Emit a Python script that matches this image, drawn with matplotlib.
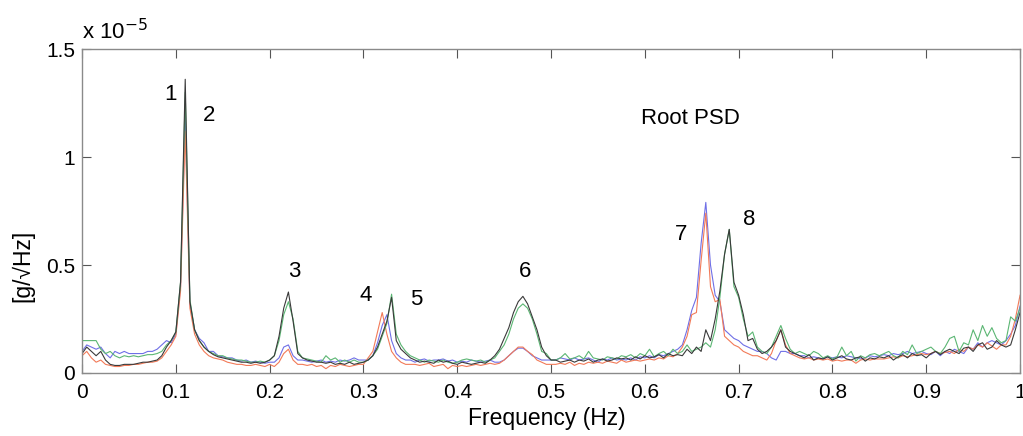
import numpy as np
import matplotlib
matplotlib.use("Agg")
import matplotlib.pyplot as plt

plt.rcParams["font.family"] = ["Liberation Sans", "DejaVu Sans"]

# frequency grid (Hz), 0.005 Hz spacing
freq = np.round(np.arange(201) * 0.005, 4)

# root PSD values in units of 1e-5 g/sqrt(Hz)
psd_black = (
    [0.09, 0.12, 0.10, 0.08, 0.10, 0.06, 0.04, 0.035, 0.035, 0.04,
     0.04, 0.04, 0.045, 0.05, 0.05, 0.055, 0.06, 0.08, 0.12, 0.15]          # 0 - 0.095
    + [0.19, 0.42, 1.36, 0.33, 0.20, 0.15, 0.12, 0.10, 0.085, 0.075, 0.07]  # 0.1 - 0.15
    + [0.065, 0.06, 0.055, 0.05, 0.05, 0.045, 0.05, 0.045, 0.05, 0.06]
    + [0.08, 0.17, 0.30, 0.375, 0.24, 0.09]                                # peak 3
    + [0.07, 0.06, 0.055, 0.05, 0.05, 0.045, 0.05, 0.04, 0.045, 0.04,
       0.05, 0.04, 0.045, 0.05]
    + [0.06, 0.08, 0.12, 0.18, 0.24, 0.35, 0.15, 0.11, 0.09, 0.07]          # peak 4/5
    + [0.06, 0.05, 0.055, 0.05, 0.045, 0.06, 0.05, 0.055, 0.045, 0.04,
       0.05, 0.045, 0.04, 0.045, 0.05, 0.045, 0.06]
    + [0.08, 0.11, 0.16, 0.21, 0.28, 0.33, 0.355, 0.32, 0.26, 0.20,
       0.12, 0.08, 0.06]                                                    # peak 6
    + [0.06, 0.05, 0.055, 0.06, 0.05, 0.06, 0.055, 0.065, 0.05, 0.06,
       0.065, 0.055, 0.06, 0.07, 0.065, 0.07, 0.06, 0.075, 0.065, 0.08,
       0.07, 0.075, 0.085, 0.07, 0.09, 0.08, 0.085]
    + [0.08, 0.11, 0.09, 0.12, 0.10, 0.20, 0.15, 0.25, 0.38, 0.55,
       0.665, 0.42, 0.36, 0.27, 0.15, 0.16, 0.11]                           # peak 7/8
    + [0.09, 0.10, 0.12, 0.15, 0.20, 0.12, 0.10, 0.09]
    + [0.08, 0.07, 0.085, 0.06, 0.07, 0.065, 0.075, 0.06, 0.07, 0.08,
       0.065, 0.06, 0.07, 0.075, 0.055, 0.07, 0.065, 0.075]
    + [0.07, 0.08, 0.06, 0.075, 0.085, 0.07, 0.09, 0.08, 0.085, 0.07,
       0.09, 0.10, 0.085, 0.10, 0.11, 0.10, 0.09, 0.115, 0.12, 0.10,
       0.13, 0.14, 0.11, 0.12, 0.15, 0.13, 0.12]
    + [0.13, 0.20, 0.28]
)

psd_green = (
    [0.15, 0.15, 0.15, 0.15, 0.11, 0.09, 0.10, 0.08, 0.07, 0.08,
     0.075, 0.08, 0.075, 0.08, 0.085, 0.085, 0.09, 0.10, 0.13, 0.15]
    + [0.19, 0.42, 1.30, 0.34, 0.20, 0.15, 0.12, 0.10, 0.09, 0.08, 0.08]
    + [0.07, 0.065, 0.06, 0.06, 0.055, 0.05, 0.05, 0.055, 0.05, 0.06]
    + [0.08, 0.15, 0.27, 0.33, 0.25, 0.10]
    + [0.07, 0.065, 0.06, 0.055, 0.05, 0.08, 0.06, 0.07, 0.05, 0.06,
       0.05, 0.06, 0.05, 0.05]
    + [0.06, 0.08, 0.11, 0.17, 0.23, 0.365, 0.18, 0.13, 0.10, 0.08]
    + [0.07, 0.06, 0.05, 0.06, 0.055, 0.05, 0.06, 0.05, 0.045, 0.05,
       0.06, 0.065, 0.06, 0.055, 0.06, 0.05, 0.06]
    + [0.07, 0.10, 0.13, 0.18, 0.25, 0.30, 0.32, 0.30, 0.25, 0.18,
       0.10, 0.09, 0.06]
    + [0.06, 0.07, 0.09, 0.065, 0.07, 0.08, 0.065, 0.10, 0.07, 0.065,
       0.06, 0.075, 0.07, 0.065, 0.08, 0.075, 0.085, 0.07, 0.09, 0.08,
       0.11, 0.075, 0.09, 0.10, 0.08, 0.11, 0.09]
    + [0.10, 0.13, 0.10, 0.11, 0.12, 0.14, 0.12, 0.20, 0.35, 0.55,
       0.665, 0.40, 0.35, 0.25, 0.17, 0.19, 0.12]
    + [0.10, 0.09, 0.12, 0.17, 0.22, 0.16, 0.11, 0.09]
    + [0.10, 0.09, 0.08, 0.10, 0.09, 0.07, 0.08, 0.065, 0.075, 0.12,
       0.08, 0.10, 0.055, 0.08, 0.07, 0.085, 0.09, 0.08]
    + [0.09, 0.10, 0.08, 0.07, 0.10, 0.085, 0.13, 0.09, 0.10, 0.11,
       0.12, 0.10, 0.09, 0.12, 0.16, 0.17, 0.10, 0.14, 0.13, 0.20,
       0.15, 0.22, 0.17, 0.21, 0.16, 0.14, 0.15]
    + [0.26, 0.24, 0.30]
)

psd_blue = (
    [0.10, 0.13, 0.12, 0.11, 0.12, 0.09, 0.07, 0.10, 0.09, 0.10,
     0.09, 0.09, 0.09, 0.09, 0.10, 0.10, 0.11, 0.13, 0.15, 0.14]
    + [0.18, 0.40, 1.20, 0.32, 0.20, 0.16, 0.14, 0.10, 0.10, 0.08, 0.075]
    + [0.07, 0.07, 0.06, 0.055, 0.06, 0.05, 0.055, 0.05, 0.045, 0.05]
    + [0.05, 0.07, 0.12, 0.13, 0.08, 0.06]
    + [0.06, 0.055, 0.05, 0.055, 0.06, 0.05, 0.055, 0.05, 0.06, 0.055,
       0.06, 0.07, 0.06, 0.06]
    + [0.06, 0.08, 0.14, 0.22, 0.27, 0.15, 0.09, 0.07, 0.06, 0.06]
    + [0.05, 0.06, 0.065, 0.055, 0.06, 0.06, 0.065, 0.055, 0.06, 0.05,
       0.055, 0.05, 0.06, 0.055, 0.05, 0.055, 0.06]
    + [0.05, 0.05, 0.06, 0.08, 0.10, 0.115, 0.115, 0.10, 0.08, 0.07,
       0.06, 0.06, 0.06]
    + [0.06, 0.07, 0.065, 0.06, 0.07, 0.06, 0.065, 0.07, 0.06, 0.05,
       0.065, 0.06, 0.07, 0.06, 0.065, 0.06, 0.07, 0.06, 0.075, 0.07,
       0.08, 0.07, 0.085, 0.08, 0.09, 0.10, 0.11]
    + [0.13, 0.20, 0.29, 0.35, 0.60, 0.79, 0.50, 0.36, 0.33, 0.20,
       0.18, 0.16, 0.15, 0.13, 0.12, 0.11, 0.10]
    + [0.10, 0.09, 0.07, 0.06, 0.10, 0.10, 0.09, 0.09]
    + [0.08, 0.08, 0.07, 0.075, 0.07, 0.065, 0.075, 0.07, 0.075, 0.07,
       0.08, 0.075, 0.07, 0.065, 0.07, 0.08, 0.075, 0.08]
    + [0.085, 0.08, 0.09, 0.085, 0.09, 0.10, 0.09, 0.095, 0.10, 0.09,
       0.085, 0.10, 0.08, 0.10, 0.09, 0.11, 0.10, 0.09, 0.12, 0.11,
       0.14, 0.12, 0.14, 0.15, 0.14, 0.13, 0.15]
    + [0.18, 0.22, 0.31]
)

psd_red = (
    [0.08, 0.10, 0.07, 0.05, 0.06, 0.04, 0.035, 0.03, 0.03, 0.035,
     0.035, 0.04, 0.04, 0.045, 0.05, 0.05, 0.055, 0.07, 0.10, 0.13]
    + [0.17, 0.38, 1.12, 0.30, 0.18, 0.13, 0.10, 0.08, 0.07, 0.065, 0.06]
    + [0.05, 0.045, 0.04, 0.04, 0.035, 0.035, 0.04, 0.035, 0.03, 0.04]
    + [0.03, 0.05, 0.09, 0.11, 0.06, 0.04]
    + [0.04, 0.035, 0.04, 0.03, 0.035, 0.02, 0.035, 0.03, 0.04, 0.035,
       0.03, 0.035, 0.04, 0.04]
    + [0.07, 0.10, 0.19, 0.28, 0.18, 0.10, 0.07, 0.05, 0.04, 0.04]
    + [0.04, 0.035, 0.04, 0.045, 0.03, 0.035, 0.04, 0.02, 0.035, 0.03,
       0.035, 0.03, 0.035, 0.04, 0.035, 0.04, 0.045]
    + [0.04, 0.045, 0.06, 0.08, 0.10, 0.12, 0.12, 0.10, 0.085, 0.06,
       0.05, 0.04, 0.04]
    + [0.04, 0.045, 0.04, 0.05, 0.035, 0.045, 0.04, 0.05, 0.045, 0.05,
       0.045, 0.055, 0.05, 0.045, 0.06, 0.05, 0.055, 0.06, 0.055, 0.06,
       0.065, 0.06, 0.07, 0.065, 0.08, 0.075, 0.09]
    + [0.12, 0.17, 0.27, 0.28, 0.52, 0.74, 0.40, 0.33, 0.34, 0.17,
       0.15, 0.13, 0.12, 0.10, 0.09, 0.08, 0.08]
    + [0.07, 0.06, 0.09, 0.15, 0.20, 0.13, 0.09, 0.08]
    + [0.07, 0.065, 0.07, 0.06, 0.065, 0.06, 0.065, 0.055, 0.06, 0.055,
       0.06, 0.06, 0.045, 0.06, 0.065, 0.06, 0.065, 0.065]
    + [0.065, 0.07, 0.075, 0.07, 0.08, 0.075, 0.08, 0.085, 0.09, 0.085,
       0.09, 0.10, 0.09, 0.095, 0.10, 0.09, 0.11, 0.10, 0.12, 0.11,
       0.13, 0.12, 0.14, 0.125, 0.11, 0.13, 0.13]
    + [0.17, 0.25, 0.36]
)

# peak labels: text, frequency, height (x 1e-5)
peak_labels = ["1", "2", "3", "4", "5", "6", "7", "8"]
peak_x = [0.094, 0.135, 0.226, 0.302, 0.356, 0.472, 0.639, 0.711]
peak_y = [1.29, 1.19, 0.47, 0.36, 0.34, 0.47, 0.64, 0.71]

xticks = np.round(np.arange(0, 1.01, 0.1), 1)
xtick_labels = ["0", "0.1", "0.2", "0.3", "0.4", "0.5", "0.6", "0.7", "0.8", "0.9", "1"]
yticks = [0, 0.5, 1, 1.5]
ytick_labels = ["0", "0.5", "1", "1.5"]

fig = plt.figure(figsize=(10.23, 4.36), dpi=100)
ax = fig.add_axes([0.0802, 0.1445, 0.9169, 0.743])

series = [
    (psd_blue, "#6f6fe6"),
    (psd_red, "#f27a58"),
    (psd_green, "#5bb673"),
    (psd_black, "#3a3a3a"),
]
for vals, col in series:
    ax.plot(freq, vals, color=col, linewidth=0.8)

ax.set_xlim(0, 1)
ax.set_ylim(0, 1.5)

ax.set_xticks(xticks)
ax.set_xticklabels(xtick_labels)
ax.set_yticks(yticks)
ax.set_yticklabels(ytick_labels)
ax.tick_params(direction="in", length=6.5, width=0.8, color="#555555",
               labelsize=15, top=True, right=True, pad=5)
ax.tick_params(axis="x", pad=7)

for sp in ax.spines.values():
    sp.set_color("#8a8a8a")
    sp.set_linewidth(1.0)

for lab, x, y in zip(peak_labels, peak_x, peak_y):
    ax.text(x, y, lab, fontsize=16, ha="center", va="center")

ax.text(0.649, 1.18, "Root PSD", fontsize=16, ha="center", va="center")

ax.text(0.0, 1.015, "x 10$^{-5}$", fontsize=16, transform=ax.transAxes,
        ha="left", va="bottom")

ax.set_xlabel("Frequency (Hz)", fontsize=16.5)
ax.xaxis.set_label_coords(0.496, -0.139)
ax.xaxis.label.set_va("center")
ax.set_ylabel("[g/\u221aHz]", fontsize=16.5)
ax.yaxis.set_label_coords(-0.063, 0.33)
ax.yaxis.label.set_va("center")

fig.savefig("out.png", dpi=100)
